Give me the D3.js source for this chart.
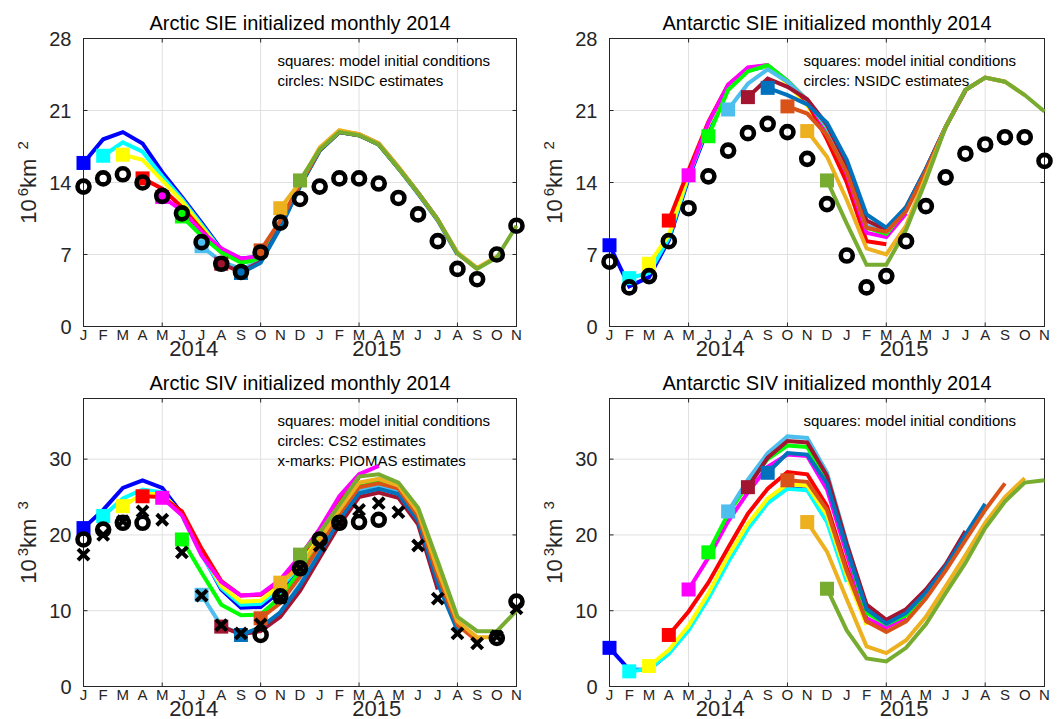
<!DOCTYPE html>
<html>
<head>
<meta charset="utf-8">
<script src="https://cdn.jsdelivr.net/npm/d3@7"></script>
<style>
  body { margin: 0; background: #fff; }
  svg { font-family: 'Liberation Sans', Arial, Helvetica, sans-serif; }
</style>
</head>
<body>
<svg id="chart" width="1058" height="719"></svg>
<script>
// x axis: one letter per month, Jan 2014 .. Nov 2015
const monthLabels = ['J','F','M','A','M','J','J','A','S','O','N','D','J','F','M','A','M','J','J','A','S','O','N'];
const yearLabels = ['2014', '2015'];
const yearMonths = [5.6, 14.9];
const gridMonths = [4, 9, 14, 19];

const sieTicks = [0, 7, 14, 21, 28];
const sivTicks = [0, 10, 20, 30];

// one run per start month (Jan..Dec 2014), 12 monthly values each
const arcticSieRuns = [
  [15.9, 18.2, 18.9, 17.8, 15.0, 12.6, 10.1, 7.5, 6.6, 6.8, 10.1, 13.8],
  [16.6, 17.9, 17.0, 14.6, 12.4, 9.9, 7.4, 6.5, 6.7, 10.0, 13.8, 17.2],
  [16.7, 16.2, 14.2, 12.2, 9.7, 7.3, 6.4, 6.6, 10.0, 13.8, 17.2, 18.9],
  [14.4, 13.4, 11.6, 9.4, 7.2, 6.3, 6.5, 9.9, 13.8, 17.2, 18.9, 18.6],
  [12.6, 11.3, 9.2, 7.6, 6.6, 6.8, 10.0, 13.8, 17.2, 18.9, 18.6, 17.7],
  [10.7, 8.8, 7.2, 6.2, 6.5, 9.9, 13.7, 17.2, 18.9, 18.6, 17.7, 15.4],
  [7.8, 6.3, 5.6, 6.3, 9.8, 13.7, 17.1, 18.9, 18.6, 17.7, 15.4, 13.0],
  [6.1, 5.3, 6.3, 9.7, 13.7, 17.1, 18.9, 18.6, 17.7, 15.4, 13.0, 10.4],
  [5.2, 6.2, 9.6, 13.6, 17.1, 18.9, 18.6, 17.7, 15.4, 12.9, 10.3, 7.0],
  [7.4, 10.3, 13.8, 17.2, 19.0, 18.7, 17.8, 15.5, 13.0, 10.4, 7.1, 5.6],
  [11.5, 14.0, 17.4, 19.1, 18.7, 17.8, 15.5, 13.0, 10.4, 7.2, 5.7, 6.8],
  [14.2, 17.2, 18.9, 18.6, 17.7, 15.4, 13.0, 10.4, 7.1, 5.6, 6.7, 9.8]
];
const arcticSieNsidc = [13.6, 14.4, 14.8, 14.0, 12.7, 11.0, 8.2, 6.1, 5.3, 7.2, 10.1, 12.4,
  13.6, 14.4, 14.4, 13.9, 12.5, 10.9, 8.3, 5.6, 4.6, 7.0, 9.8];

const antarcticSieRuns = [
  [7.9, 3.9, 4.8, 8.4, 14.4, 19.4, 23.2, 24.9, 25.3, 23.7, 21.7, 19.6],
  [4.7, 5.2, 8.6, 14.6, 19.6, 23.3, 24.9, 25.3, 23.7, 21.7, 19.4, 15.6],
  [6.1, 8.9, 14.8, 19.7, 23.4, 25.0, 25.3, 23.6, 21.5, 18.6, 14.3, 9.0],
  [10.3, 15.2, 19.9, 23.5, 25.1, 25.4, 23.8, 21.8, 18.2, 14.0, 8.3, 8.0],
  [14.7, 19.8, 23.5, 25.2, 25.4, 23.9, 22.0, 19.0, 14.8, 9.1, 8.7, 11.0],
  [18.5, 23.0, 24.8, 25.4, 23.9, 22.0, 19.3, 15.3, 9.6, 9.0, 11.4, 15.2],
  [21.1, 23.6, 25.0, 23.8, 22.0, 19.4, 15.4, 9.8, 9.2, 11.5, 15.3, 19.3],
  [22.3, 24.1, 23.3, 22.1, 19.6, 15.8, 10.3, 9.4, 11.6, 15.3, 19.4, 22.9],
  [23.2, 22.5, 21.6, 19.8, 16.2, 10.9, 9.6, 11.6, 15.3, 19.4, 23.0, 24.2],
  [21.4, 20.7, 18.6, 15.0, 9.6, 9.2, 11.2, 15.1, 19.4, 23.0, 24.2, 23.8],
  [19.0, 16.5, 12.3, 7.6, 7.0, 9.8, 14.6, 19.4, 23.0, 24.2, 23.8, 22.5],
  [14.2, 10.0, 6.0, 6.0, 9.4, 14.2, 19.4, 23.0, 24.2, 23.8, 22.5, 20.9]
];
const antarcticSieNsidc = [6.3, 3.8, 4.9, 8.3, 11.5, 14.6, 17.1, 18.8, 19.7, 18.9, 16.3, 11.9,
  6.9, 3.8, 4.9, 8.3, 11.7, 14.5, 16.8, 17.7, 18.4, 18.4, 16.1];

const arcticSivRuns = [
  [20.9, 23.3, 26.2, 27.2, 26.2, 22.8, 17.6, 12.8, 10.4, 10.5, 12.6, 15.8],
  [22.5, 24.8, 26.0, 25.6, 22.6, 17.4, 13.0, 10.8, 10.9, 13.0, 16.0, 19.8],
  [23.8, 25.4, 25.4, 22.8, 17.7, 13.3, 11.2, 11.3, 13.4, 16.4, 20.2, 23.8],
  [25.1, 25.0, 23.1, 18.2, 13.9, 12.0, 12.1, 14.0, 17.0, 20.6, 24.8, 27.6],
  [24.9, 22.6, 17.3, 13.8, 12.0, 12.2, 14.1, 17.2, 20.8, 25.1, 28.0, 29.1],
  [19.4, 15.0, 10.8, 9.4, 9.5, 11.8, 15.2, 19.2, 23.0, 26.4, 27.0, 26.0],
  [12.1, 8.0, 6.9, 7.4, 9.8, 13.5, 18.0, 22.4, 25.9, 26.6, 25.7, 22.3],
  [7.9, 6.9, 7.3, 9.2, 12.6, 17.0, 21.3, 25.0, 25.6, 24.9, 21.4, 12.8],
  [6.8, 7.8, 9.8, 13.3, 17.6, 22.0, 25.5, 26.1, 25.4, 21.9, 13.6, 7.4],
  [9.0, 11.0, 14.5, 18.6, 22.8, 26.3, 26.8, 26.1, 22.5, 14.6, 8.1, 6.0],
  [13.7, 15.8, 19.4, 23.3, 26.9, 27.4, 26.5, 23.0, 15.4, 8.6, 6.5, 6.5],
  [17.4, 20.3, 24.0, 27.7, 28.0, 26.9, 23.6, 16.5, 9.2, 7.3, 7.3, 10.0]
];
const arcticSivCs2 = [19.4, 20.7, 21.6, 21.6, null, null, null, null, null, 6.8, 11.9, 15.6,
  19.4, 21.6, 21.7, 22.0, null, null, null, null, null, 6.4, 11.2];
const arcticSivPiomas = [17.4, 20.0, 21.8, 23.1, 22.0, 17.7, 12.0, 8.1, 7.0, 8.2, 11.7, 15.6,
  18.6, 21.6, 23.3, 24.2, 23.0, 18.6, 11.6, 7.0, 5.7, 6.6, 10.3];

const antarcticSivRuns = [
  [5.1, 2.2, 2.2, 4.4, 7.6, 11.8, 16.6, 21.0, 24.4, 26.2, 26.0, 21.8],
  [2.0, 2.3, 4.3, 7.4, 11.6, 16.4, 20.8, 24.2, 26.1, 25.9, 21.7, 13.8],
  [2.7, 4.8, 8.0, 12.3, 17.2, 21.5, 24.8, 26.7, 26.5, 22.6, 14.6, 8.1],
  [6.8, 9.9, 13.7, 18.3, 22.8, 26.1, 28.3, 28.0, 23.8, 15.6, 8.6, 7.4],
  [12.8, 17.0, 21.8, 25.6, 29.0, 30.6, 30.4, 26.0, 17.5, 9.0, 7.8, 9.0],
  [17.7, 22.8, 26.7, 30.0, 31.8, 31.6, 27.2, 18.2, 9.7, 8.2, 9.4, 12.0],
  [23.1, 27.3, 30.8, 33.0, 32.8, 28.2, 19.0, 10.4, 8.6, 10.0, 12.6, 15.8],
  [26.3, 30.2, 32.4, 32.2, 27.8, 18.8, 10.8, 8.8, 10.2, 12.8, 16.1, 20.5],
  [28.2, 30.8, 30.6, 26.8, 18.2, 10.2, 8.3, 9.7, 12.4, 15.8, 20.0, 24.1],
  [27.2, 27.0, 23.3, 15.2, 8.6, 7.2, 8.6, 11.6, 15.3, 19.3, 23.3, 26.8],
  [21.7, 17.8, 11.5, 5.3, 4.4, 6.1, 9.2, 13.2, 17.3, 21.6, 25.0, 27.5],
  [12.9, 7.4, 3.7, 3.3, 5.1, 8.2, 12.3, 16.3, 20.9, 24.4, 26.9, 27.2]
];

// matlab line colours, one per start month
const runColors = ['#0000ff', '#00ffff', '#ffff00', '#ff0000', '#ff00ff', '#00ff00',
  '#4dbeee', '#a2142f', '#0072bd', '#d95319', '#edb120', '#77ac30'];

const panels = [
  { title: 'Arctic SIE initialized monthly 2014', left: 83.5, right: 516.5, top: 38.5, bottom: 326.5,
    yMax: 28, yTicks: sieTicks, pow: '6', unitPow: '2', runs: arcticSieRuns,
    circles: arcticSieNsidc, crosses: null,
    notes: ['squares: model initial conditions', 'circles: NSIDC estimates'] },
  { title: 'Antarctic SIE initialized monthly 2014', left: 609.5, right: 1044.5, top: 38.5, bottom: 326.5,
    yMax: 28, yTicks: sieTicks, pow: '6', unitPow: '2', runs: antarcticSieRuns,
    circles: antarcticSieNsidc, crosses: null,
    notes: ['squares: model initial conditions', 'circles: NSIDC estimates'] },
  { title: 'Arctic SIV initialized monthly 2014', left: 83.5, right: 516.5, top: 398.5, bottom: 686.5,
    yMax: 38, yTicks: sivTicks, pow: '3', unitPow: '3', runs: arcticSivRuns,
    circles: arcticSivCs2, crosses: arcticSivPiomas,
    notes: ['squares: model initial conditions', 'circles: CS2 estimates', 'x-marks: PIOMAS estimates'] },
  { title: 'Antarctic SIV initialized monthly 2014', left: 609.5, right: 1044.5, top: 398.5, bottom: 686.5,
    yMax: 38, yTicks: sivTicks, pow: '3', unitPow: '3', runs: antarcticSivRuns,
    circles: null, crosses: null,
    notes: ['squares: model initial conditions'] }
];

const svg = d3.select('#chart');
const axisColor = '#262626';

panels.forEach(drawPanel);

function drawPanel(p) {
  const x = d3.scaleLinear().domain([0, monthLabels.length - 1]).range([p.left, p.right]);
  const y = d3.scaleLinear().domain([0, p.yMax]).range([p.bottom, p.top]);
  const g = svg.append('g');
  const inner = p.yTicks.filter(t => t > 0 && t < p.yMax);

  // grid
  g.selectAll('line.hgrid').data(inner).join('line').attr('class', 'hgrid')
    .attr('x1', p.left).attr('x2', p.right)
    .attr('y1', d => y(d)).attr('y2', d => y(d))
    .attr('stroke', '#e0e0e0').attr('stroke-width', 1);
  g.selectAll('line.vgrid').data(gridMonths).join('line').attr('class', 'vgrid')
    .attr('x1', d => x(d)).attr('x2', d => x(d))
    .attr('y1', p.top).attr('y2', p.bottom)
    .attr('stroke', '#e0e0e0').attr('stroke-width', 1);

  // box + inward ticks
  g.append('rect')
    .attr('x', p.left).attr('y', p.top)
    .attr('width', p.right - p.left).attr('height', p.bottom - p.top)
    .attr('fill', 'none').attr('stroke', axisColor).attr('stroke-width', 1);
  inner.forEach(t => {
    g.append('line').attr('x1', p.left).attr('x2', p.left + 4).attr('y1', y(t)).attr('y2', y(t)).attr('stroke', axisColor);
    g.append('line').attr('x1', p.right - 4).attr('x2', p.right).attr('y1', y(t)).attr('y2', y(t)).attr('stroke', axisColor);
  });
  gridMonths.forEach(m => {
    g.append('line').attr('x1', x(m)).attr('x2', x(m)).attr('y1', p.top).attr('y2', p.top + 4).attr('stroke', axisColor);
    g.append('line').attr('x1', x(m)).attr('x2', x(m)).attr('y1', p.bottom - 4).attr('y2', p.bottom).attr('stroke', axisColor);
  });

  // y tick labels
  g.selectAll('text.ytick').data(p.yTicks).join('text').attr('class', 'ytick')
    .attr('x', p.left - 12).attr('y', d => y(d)).attr('dy', '0.36em')
    .attr('text-anchor', 'end').attr('font-size', 20).attr('fill', axisColor)
    .text(d => d);

  // month letters and years
  g.selectAll('text.month').data(monthLabels).join('text').attr('class', 'month')
    .attr('x', (d, i) => x(i)).attr('y', p.bottom + 13)
    .attr('text-anchor', 'middle').attr('font-size', 15).attr('fill', axisColor)
    .text(d => d);
  g.selectAll('text.year').data(yearLabels).join('text').attr('class', 'year')
    .attr('x', (d, i) => x(yearMonths[i])).attr('y', p.bottom + 29)
    .attr('text-anchor', 'middle').attr('font-size', 22).attr('fill', axisColor)
    .text(d => d);

  // y label 10^n km^n
  const yl = g.append('text')
    .attr('transform', 'translate(' + (p.left - 48) + ',' + ((p.top + p.bottom) / 2) + ') rotate(-90)')
    .attr('text-anchor', 'middle').attr('font-size', 22).attr('fill', axisColor);
  yl.append('tspan').text('10');
  yl.append('tspan').attr('dx', 3).attr('dy', -8).attr('font-size', 15).text(p.pow);
  yl.append('tspan').attr('dy', 8).text('km');
  yl.append('tspan').attr('dx', 9).attr('dy', -8).attr('font-size', 15).text(p.unitPow);

  // title
  g.append('text')
    .attr('x', (p.left + p.right) / 2).attr('y', p.top - 8.5)
    .attr('text-anchor', 'middle').attr('font-size', 20).attr('fill', '#000')
    .text(p.title);

  // notes
  g.selectAll('text.note').data(p.notes).join('text').attr('class', 'note')
    .attr('x', p.left + 194).attr('y', (d, i) => p.top + 27 + i * 20)
    .attr('font-size', 15).attr('fill', '#000')
    .text(d => d);

  // forecast runs
  const line = d3.line().x(d => x(d.m)).y(d => y(d.v));
  p.runs.forEach((run, i) => {
    g.append('path')
      .datum(run.map((v, j) => ({ m: i + j, v: v })))
      .attr('fill', 'none').attr('stroke', runColors[i])
      .attr('stroke-width', 4).attr('stroke-linejoin', 'miter')
      .attr('d', line);
  });

  // initial condition squares
  const sq = 14;
  g.selectAll('rect.init').data(p.runs.map((run, i) => ({ m: i, v: run[0] }))).join('rect').attr('class', 'init')
    .attr('x', d => x(d.m) - sq / 2).attr('y', d => y(d.v) - sq / 2)
    .attr('width', sq).attr('height', sq)
    .attr('fill', (d, i) => runColors[i]);

  // observation x-marks
  if (p.crosses) {
    const xs = p.crosses.map((v, m) => ({ m: m, v: v })).filter(d => d.v !== null);
    g.selectAll('path.cross').data(xs).join('path').attr('class', 'cross')
      .attr('d', d => {
        const cx = x(d.m), cy = y(d.v), r = 5.5;
        return 'M' + (cx - r) + ',' + (cy - r) + 'L' + (cx + r) + ',' + (cy + r) +
               'M' + (cx - r) + ',' + (cy + r) + 'L' + (cx + r) + ',' + (cy - r);
      })
      .attr('stroke', '#000').attr('stroke-width', 4).attr('fill', 'none');
  }

  // observation circles
  if (p.circles) {
    const cs = p.circles.map((v, m) => ({ m: m, v: v })).filter(d => d.v !== null);
    g.selectAll('circle.obs').data(cs).join('circle').attr('class', 'obs')
      .attr('cx', d => x(d.m)).attr('cy', d => y(d.v)).attr('r', 6)
      .attr('fill', 'none').attr('stroke', '#000').attr('stroke-width', 4.6);
  }
}
</script>
</body>
</html>
